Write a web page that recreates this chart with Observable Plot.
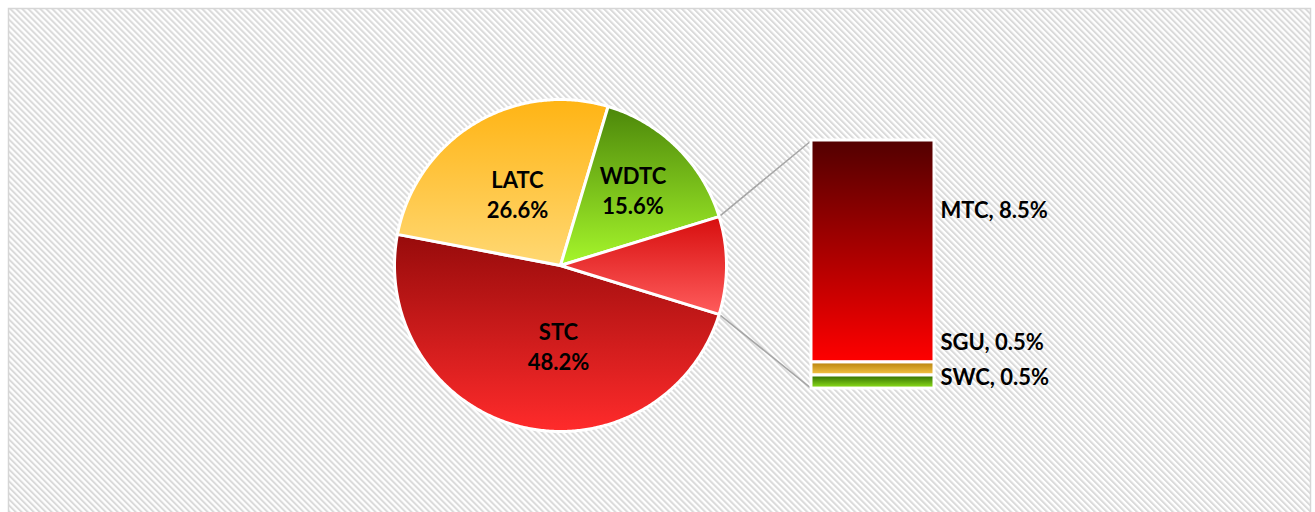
<!DOCTYPE html>
<html><head><meta charset="utf-8">
<script src="https://cdn.jsdelivr.net/npm/d3@7"></script>
<script src="https://cdn.jsdelivr.net/npm/@observablehq/plot@0.6"></script>
<style>html,body{margin:0;padding:0;overflow:hidden;background:#fff;} #chart svg{display:block;}</style>
</head><body><div id="chart"></div>
<script>
// ---- data ----
const pieCategories = ["STC", "LATC", "WDTC"];
const pieValues = [48.2, 26.6, 15.6];
const barCategories = ["MTC", "SGU", "SWC"];
const barValues = [8.5, 0.5, 0.5];

// ---- colours (top -> bottom gradient) ----
const gradients = {
  STC: ["#970b0b", "#ff2b2b"],
  LATC: ["#ffb414", "#ffd873"],
  WDTC: ["#4c870a", "#a6f62b"],
  Other: ["#d70e0e", "#ff5c5c"],
  MTC: ["#520000", "#ff0000"],
  SGU: ["#b57f0a", "#f9c848"],
  SWC: ["#2c6800", "#92e41c"]
};

// ---- layout ----
const W = 1315, H = 520;
const K = 166;            // pixels per unit (pie radius)
const CX = 560, CY = 265; // pie centre in pixels
const box = {left: 8, top: 8, right: 1310, bottom: 520};
const barLeft = 1.512, barWidth = 0.741, barTop = 0.753, barUnit = 0.1573;
const pieLabelR = 0.5;
const pieLabelNudge = {STC: [18, -1], LATC: [0, -1], WDTC: [14, -17]};
const barLabelNudge = [-41, -26, -4];
const font = {fontFamily: "Lato, 'Open Sans', sans-serif", fontWeight: 700, fontSize: 22, fill: "#000"};

// ---- pie geometry ----
const otherValue = d3.sum(barValues);
const slices = pieCategories.map((name, i) => ({name, value: pieValues[i]}))
  .concat([{name: "Other", value: otherValue}]);
const total = d3.sum(slices, d => d.value);
const otherAngle = otherValue / total * 2 * Math.PI;
const start = Math.PI / 2 + otherAngle / 2;
const arcs = d3.pie().sort(null).value(d => d.value)
  .startAngle(start).endAngle(start + 2 * Math.PI)(slices);

function slicePoints(a) {
  const pts = [{x: 0, y: 0}];
  const n = Math.max(8, Math.ceil((a.endAngle - a.startAngle) / 0.01));
  for (let i = 0; i <= n; i++) {
    const t = a.startAngle + (a.endAngle - a.startAngle) * i / n;
    pts.push({x: Math.sin(t), y: Math.cos(t)});
  }
  pts.push({x: 0, y: 0});
  return pts;
}

const sliceMarks = arcs.map(a => Plot.line(slicePoints(a), {
  x: "x", y: "y", fill: `url(#g-${a.data.name})`, stroke: "white", strokeWidth: 3, strokeLinejoin: "round"
}));

const pieLabelMarks = arcs.filter(a => a.data.name !== "Other").map(a => {
  const m = (a.startAngle + a.endAngle) / 2;
  const [dx, dy] = pieLabelNudge[a.data.name];
  return Plot.text([{x: pieLabelR * Math.sin(m), y: pieLabelR * Math.cos(m), t: `${a.data.name}\n${a.data.value.toFixed(1)}%`}], {
    x: "x", y: "y", text: "t", dx, dy, lineHeight: 1.36, textAnchor: "middle", ...font
  });
});

// ---- bar geometry ----
let cum = 0;
const segs = barCategories.map((name, i) => {
  const y2 = barTop - cum * barUnit;
  cum += barValues[i];
  const y1 = barTop - cum * barUnit;
  return {name, value: barValues[i], x1: barLeft, x2: barLeft + barWidth, y1, y2, yc: (y1 + y2) / 2};
});
const barBottom = barTop - cum * barUnit;

const barMarks = segs.map(s => Plot.rect([s], {
  x1: "x1", x2: "x2", y1: "y1", y2: "y2", fill: `url(#g-${s.name})`, stroke: "white", strokeWidth: 3
}));
const barLabelMarks = segs.map((s, i) => Plot.text([s], {
  x: "x2", y: "yc", text: d => `${d.name}, ${d.value.toFixed(1)}%`, dx: 6, dy: barLabelNudge[i], textAnchor: "start", ...font
}));

const otherArc = arcs.find(a => a.data.name === "Other");
const links = [
  {x1: Math.sin(otherArc.startAngle), y1: Math.cos(otherArc.startAngle), x2: barLeft, y2: barTop},
  {x1: Math.sin(otherArc.endAngle), y1: Math.cos(otherArc.endAngle), x2: barLeft, y2: barBottom}
];

const svg = Plot.plot({
  width: W, height: H,
  marginLeft: box.left, marginTop: box.top, marginRight: W - box.right, marginBottom: H - box.bottom,
  style: {background: "transparent", overflow: "visible"},
  x: {domain: [(box.left - CX) / K, (box.right - CX) / K], axis: null},
  y: {domain: [-(box.bottom - CY) / K, (CY - box.top) / K], axis: null},
  marks: [
    Plot.frame({fill: "url(#hatch)", stroke: "#d6d6d6", strokeWidth: 1.5}),
    Plot.link(links, {x1: "x1", y1: "y1", x2: "x2", y2: "y2", stroke: "#a6a6a6", strokeWidth: 1.6}),
    ...sliceMarks,
    ...barMarks,
    ...pieLabelMarks,
    ...barLabelMarks
  ]
});

const defs = d3.select(svg).insert("defs", ":first-child");
const pat = defs.append("pattern").attr("id", "hatch").attr("patternUnits", "userSpaceOnUse")
  .attr("width", 4.24).attr("height", 4.24).attr("patternTransform", "rotate(-45)");
pat.append("rect").attr("width", 4.24).attr("height", 4.24).attr("fill", "#ffffff");
pat.append("rect").attr("width", 2.0).attr("height", 4.24).attr("fill", "#dadada");
for (const [k, [c0, c1]] of Object.entries(gradients)) {
  const g = defs.append("linearGradient").attr("id", `g-${k}`)
    .attr("x1", 0).attr("y1", 0).attr("x2", 0).attr("y2", 1);
  g.append("stop").attr("offset", "0%").attr("stop-color", c0);
  g.append("stop").attr("offset", "100%").attr("stop-color", c1);
}
document.getElementById("chart").appendChild(svg);
</script>
</body></html>
